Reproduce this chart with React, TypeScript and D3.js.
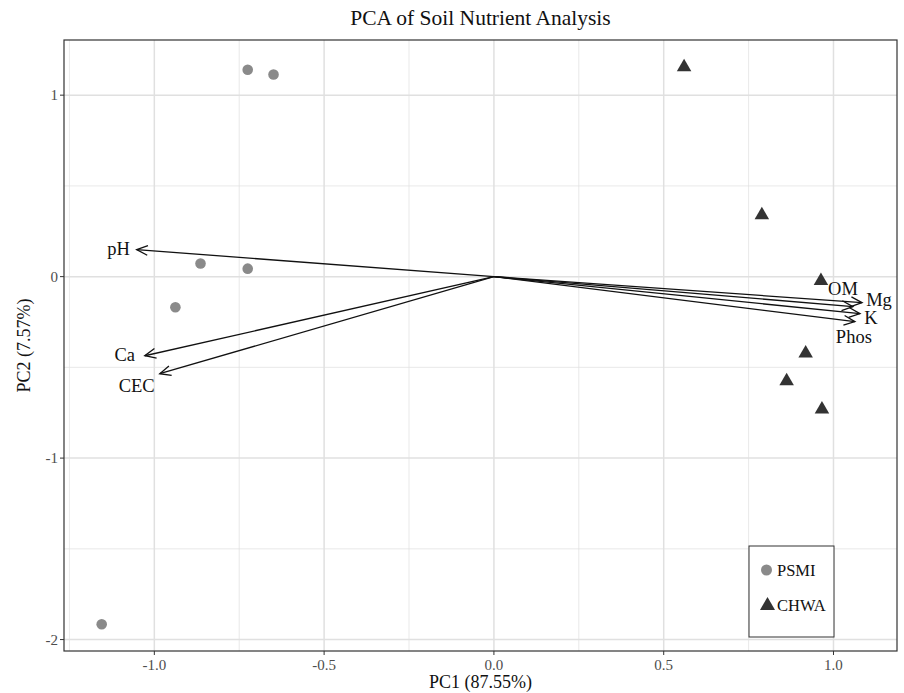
import React from 'react';
import {scaleLinear} from 'd3';

// scores
const psmiPC1 = [-0.725, -0.649, -0.864, -0.725, -0.938, -1.155];
const psmiPC2 = [1.140, 1.114, 0.072, 0.044, -0.169, -1.916];
const chwaPC1 = [0.560, 0.789, 0.963, 0.918, 0.862, 0.966];
const chwaPC2 = [1.158, 0.342, -0.020, -0.419, -0.572, -0.728];

// variable loadings (arrow tips) and where their labels sit
const variables = ['pH', 'Ca', 'CEC', 'OM', 'Mg', 'K', 'Phos'];
const loadPC1 = [-1.052, -1.028, -0.984, 1.057, 1.084, 1.078, 1.063];
const loadPC2 = [0.149, -0.436, -0.535, -0.165, -0.143, -0.204, -0.248];
const labelPC1 = [-1.105, -1.087, -1.052, 1.028, 1.134, 1.110, 1.060];
const labelPC2 = [0.154, -0.430, -0.601, -0.066, -0.127, -0.226, -0.331];

const xTicks = [-1.0, -0.5, 0.0, 0.5, 1.0];
const xMinor = [-1.25, -0.75, -0.25, 0.25, 0.75];
const yTicks = [1, 0, -1, -2];
const yMinor = [0.5, -0.5, -1.5];
const groups = ['PSMI', 'CHWA'];

const W = 904, H = 693;
const panel = {left: 64, right: 897, top: 40, bottom: 651};
const font = '"Liberation Serif", "Times New Roman", serif';
const gridColor = '#e0e0e0';

const App = () => {
    let x = scaleLinear().domain([-1.266, 1.187]).range([panel.left, panel.right]);
    let y = scaleLinear().domain([1.304, -2.063]).range([panel.top, panel.bottom]);
    let xFmt = (t: number) => t.toFixed(1);

    let arrowHead = (x1: number, y1: number, x2: number, y2: number) => {
        let a = Math.atan2(y2 - y1, x2 - x1);
        let len = 12, spread = Math.PI / 7.5;
        let p1 = [x2 - len * Math.cos(a - spread), y2 - len * Math.sin(a - spread)];
        let p2 = [x2 - len * Math.cos(a + spread), y2 - len * Math.sin(a + spread)];
        return `M${p1[0]},${p1[1]}L${x2},${y2}L${p2[0]},${p2[1]}`;
    };

    let tri = (cx: number, cy: number, s: number) =>
        `M${cx},${cy - s * 0.62}L${cx + s * 0.58},${cy + s * 0.38}L${cx - s * 0.58},${cy + s * 0.38}Z`;

    let cx0 = (panel.left + panel.right) / 2;
    let cy0 = (panel.top + panel.bottom) / 2;

    return (
        <svg width={W} height={H} style={{position: 'absolute', left: 0, top: 0, background: '#fff'}}
             fontFamily={font}>
            <style>{`body{margin:0;overflow:hidden}`}</style>
            <text x={cx0} y={25} textAnchor="middle" fontSize="21.5" fill="#111">PCA of Soil Nutrient Analysis</text>

            {/* grid */}
            <g>
                {xMinor.map((t, i) => <line key={'xm' + i} x1={x(t)} x2={x(t)} y1={panel.top} y2={panel.bottom}
                                            stroke={gridColor} strokeWidth="0.7"/>)}
                {yMinor.map((t, i) => <line key={'ym' + i} x1={panel.left} x2={panel.right} y1={y(t)} y2={y(t)}
                                            stroke={gridColor} strokeWidth="0.7"/>)}
                {xTicks.map((t, i) => <line key={'xg' + i} x1={x(t)} x2={x(t)} y1={panel.top} y2={panel.bottom}
                                            stroke={gridColor} strokeWidth="1.5"/>)}
                {yTicks.map((t, i) => <line key={'yg' + i} x1={panel.left} x2={panel.right} y1={y(t)} y2={y(t)}
                                            stroke={gridColor} strokeWidth="1.5"/>)}
            </g>

            {/* loadings */}
            <g stroke="#111" strokeWidth="1.3" fill="none">
                {variables.map((v, i) => {
                    let x2 = x(loadPC1[i]), y2 = y(loadPC2[i]);
                    return <g key={v}>
                        <line x1={x(0)} y1={y(0)} x2={x2} y2={y2}/>
                        <path d={arrowHead(x(0), y(0), x2, y2)}/>
                    </g>;
                })}
            </g>
            <g fontSize="18.5" fill="#111" textAnchor="middle">
                {variables.map((v, i) => <text key={v} x={x(labelPC1[i])} y={y(labelPC2[i])} dy="0.35em">{v}</text>)}
            </g>

            {/* scores */}
            <g fill="#8a8a8a">
                {psmiPC1.map((d, i) => <circle key={i} cx={x(d)} cy={y(psmiPC2[i])} r="5.3"/>)}
            </g>
            <g fill="#333">
                {chwaPC1.map((d, i) => <path key={i} d={tri(x(d), y(chwaPC2[i]), 12.5)}/>)}
            </g>

            {/* panel border */}
            <rect x={panel.left} y={panel.top} width={panel.right - panel.left} height={panel.bottom - panel.top}
                  fill="none" stroke="#333" strokeWidth="1.2"/>

            {/* axes */}
            <g fontSize="15" fill="#4d4d4d">
                {xTicks.map((t, i) => <g key={i}>
                    <line x1={x(t)} x2={x(t)} y1={panel.bottom} y2={panel.bottom + 4} stroke="#333"/>
                    <text x={x(t)} y={panel.bottom + 19} textAnchor="middle">{xFmt(t)}</text>
                </g>)}
                {yTicks.map((t, i) => <g key={i}>
                    <line x1={panel.left - 4} x2={panel.left} y1={y(t)} y2={y(t)} stroke="#333"/>
                    <text x={panel.left - 6} y={y(t)} dy="0.35em" textAnchor="end">{t}</text>
                </g>)}
            </g>
            <text x={cx0} y={688} textAnchor="middle" fontSize="18" fill="#111">PC1 (87.55%)</text>
            <text transform={`translate(30,${cy0}) rotate(-90)`} textAnchor="middle" fontSize="18" fill="#111">PC2 (7.57%)</text>

            {/* legend */}
            <g>
                <rect x={749} y={546} width={85} height={91} fill="#fff" stroke="#333" strokeWidth="1"/>
                <circle cx={766.5} cy={570} r="5.5" fill="#8a8a8a"/>
                <path d={tri(767.5, 605, 13)} fill="#333"/>
                {groups.map((g, i) => <text key={g} x={777} y={570 + i * 35} dy="0.35em" fontSize="16.5" fill="#111">{g}</text>)}
            </g>
        </svg>
    );
};

export default App;
